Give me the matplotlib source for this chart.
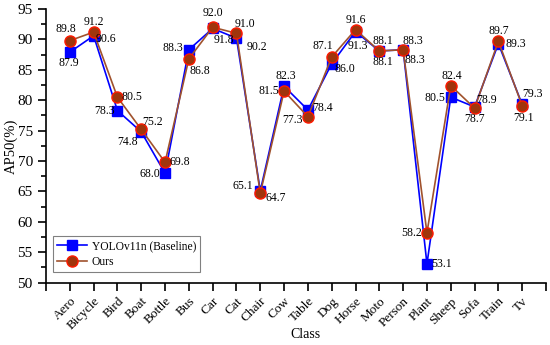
import matplotlib.pyplot as plt
import numpy as np

plt.rcParams['font.family'] = ['Liberation Serif', 'DejaVu Serif']

classes = ["Aero", "Bicycle", "Bird", "Boat", "Bottle", "Bus", "Car", "Cat", "Chair", "Cow",
           "Table", "Dog", "Horse", "Moto", "Person", "Plant", "Sheep", "Sofa", "Train", "Tv"]
baseline = [87.9, 90.6, 78.3, 74.8, 68.0, 88.3, 91.8, 90.2, 65.1, 82.3,
            78.4, 86.0, 91.3, 88.1, 88.3, 53.1, 80.5, 78.9, 89.3, 79.3]
ours = [89.8, 91.2, 80.5, 75.2, 69.8, 86.8, 92.0, 91.0, 64.7, 81.5,
        77.3, 87.1, 91.6, 88.1, 88.3, 58.2, 82.4, 78.7, 89.7, 79.1]

# label offsets (pixels) for the value annotations
base_off = [(-1, -11), (12, -3), (-13, 0), (-14, -10), (-15, -1), (-16, 2), (11, -12), (20, -9),
            (-17, 5), (2, 10), (15, 2), (13, -5), (2, -14), (4, -11), (12, -10), (15, 0),
            (-16, -1), (12, 7), (17, 0), (10, 10)]
ours_off = [(-4, 12), (0, 10), (15, 0), (11, 7), (15, 0), (11, -12), (0, 14), (8, 9),
            (15, -5), (-15, 0), (-15, -3), (-9, 11), (0, 10), (4, 10), (10, 9), (-15, 0),
            (1, 10), (0, -11), (0, 10), (1, -12)]

x = np.arange(1, len(classes) + 1)

fig = plt.figure(figsize=(5.5, 3.45), dpi=100)
ax = fig.add_axes([46 / 550, 1 - 282.7 / 345, 500 / 550, 273.7 / 345])

ax.plot(x, baseline, color="#0000FF", lw=1.2, marker="s", ms=7,
        mfc="#0000FF", mec="#0000FF", label="YOLOv11n (Baseline)")
ax.plot(x, ours, color="#A0522D", lw=1.2, marker="o", ms=8,
        mfc="#A0350C", mec="#FF1A00", mew=1.0, label="Ours")

for i in range(len(classes)):
    ax.annotate("%.1f" % baseline[i], (x[i], baseline[i]), xytext=base_off[i],
                textcoords="offset pixels", ha="center", va="center", fontsize=8.5)
    ax.annotate("%.1f" % ours[i], (x[i], ours[i]), xytext=ours_off[i],
                textcoords="offset pixels", ha="center", va="center", fontsize=8.5)

ax.set_xlim(0, 21)
ax.set_ylim(50, 95)
ax.set_xticks(np.arange(0, 22))
ax.set_xticklabels([""] + classes + [""], rotation=45, ha="right",
                   rotation_mode="anchor", fontsize=9.5)
ax.set_yticks(np.arange(50, 96, 5))
ax.set_yticks(np.arange(52.5, 95, 5), minor=True)
ax.tick_params(axis="both", direction="out", width=1.2, labelsize=11)
ax.tick_params(axis="x", length=6, labelsize=9.5, pad=3)
ax.tick_params(axis="y", which="major", length=6)
ax.tick_params(axis="y", which="minor", length=3.5, width=1.2)

for s in ["top", "right"]:
    ax.spines[s].set_visible(False)
for s in ["left", "bottom"]:
    ax.spines[s].set_linewidth(1.2)

ax.set_xlabel("Class", fontsize=10, va="center")
ax.xaxis.set_label_coords(0.518, -0.191)
ax.set_ylabel("AP50(%)", fontsize=10.5, va="center")
ax.yaxis.set_label_coords(-0.07, 0.5)

leg = ax.legend(loc="lower left", bbox_to_anchor=(0.014, 0.039), fontsize=8.3,
                fancybox=False, framealpha=1, edgecolor="#808080",
                borderpad=0.35, handlelength=2.6, handletextpad=0.4,
                labelspacing=0.35, borderaxespad=0)
leg.get_frame().set_linewidth(0.8)

fig.savefig("out.png", dpi=100)
